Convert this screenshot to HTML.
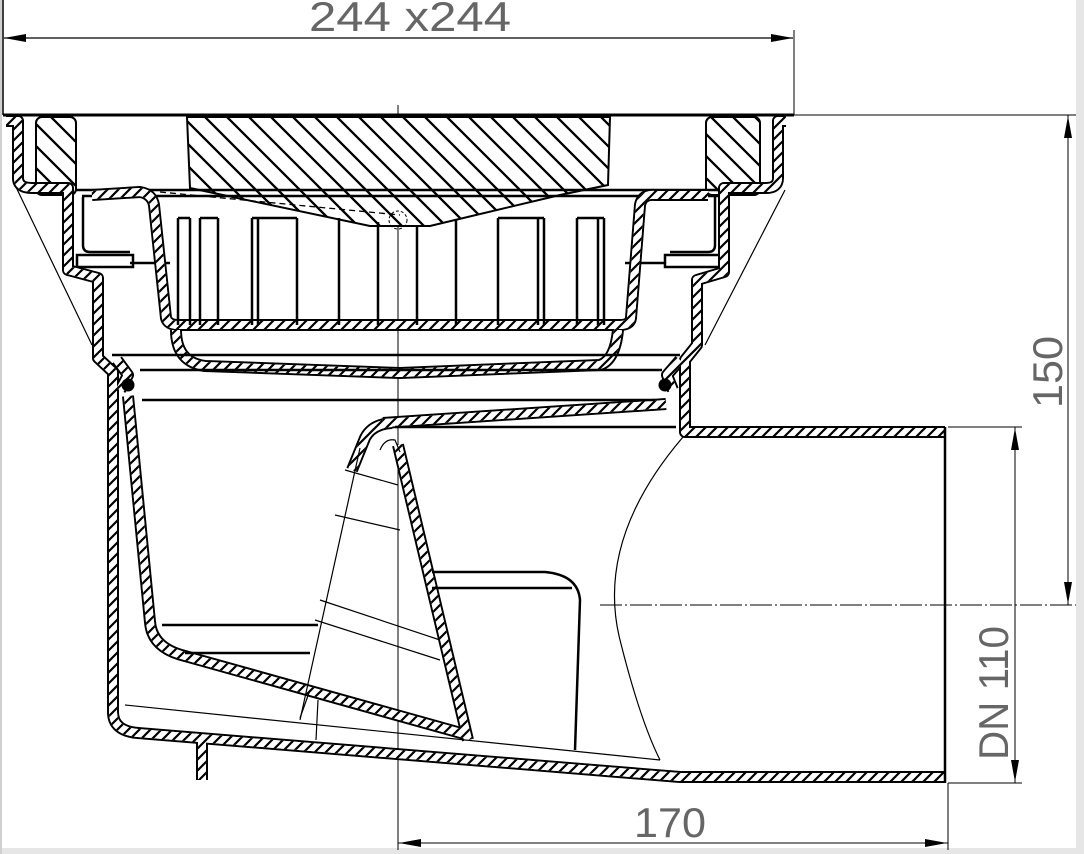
<!DOCTYPE html>
<html><head><meta charset="utf-8"><style>
html,body{margin:0;padding:0;background:#fff}
svg{display:block}
text{font-family:"Liberation Sans",sans-serif;fill:#666}
</style></head><body>
<svg width="1084" height="854" viewBox="0 0 1084 854" xmlns="http://www.w3.org/2000/svg">
<defs>
<pattern id="h" patternUnits="userSpaceOnUse" width="11" height="11">
<rect width="11" height="11" fill="#fff"/>
<path d="M-1,12 L12,-1 M-2,2 L2,-2 M9,13 L13,9" stroke="#000" stroke-width="2.2"/>
</pattern>
<pattern id="g" patternUnits="userSpaceOnUse" width="22" height="22">
<rect width="22" height="22" fill="#fff"/>
<path d="M-1,-1 L23,23 M-12,10 L12,34 M10,-12 L34,12" stroke="#000" stroke-width="2.3"/>
</pattern>
<marker id="a" markerWidth="22" markerHeight="10" refX="22" refY="5" orient="auto" markerUnits="userSpaceOnUse">
<path d="M0,1 L22,5 L0,9 Z" fill="#000"/></marker>
</defs>
<rect x="1076" y="0" width="8" height="854" fill="#e6e6e6"/>
<rect x="0" y="848" width="1084" height="6" fill="#e6e6e6"/>
<rect x="0" y="0" width="2" height="854" fill="#d0d0d0"/>

<line x1="3" y1="0" x2="3" y2="115" stroke="#000" stroke-width="1.5"/>
<line x1="794" y1="30" x2="794" y2="115" stroke="#000" stroke-width="1"/>
<line x1="25" y1="38" x2="4" y2="38" stroke="#000" stroke-width="1.2" marker-end="url(#a)"/>
<line x1="25" y1="38" x2="793" y2="38" stroke="#000" stroke-width="1.2" marker-end="url(#a)"/>
<text x="309" y="31" font-size="42" textLength="202" lengthAdjust="spacingAndGlyphs">244 x244</text>

<line x1="3" y1="115" x2="794" y2="115" stroke="#000" stroke-width="3"/>
<line x1="794" y1="115" x2="1076" y2="115" stroke="#000" stroke-width="1"/>

<line x1="1068" y1="115" x2="1068" y2="605" stroke="#000" stroke-width="1"/>
<line x1="1068" y1="140" x2="1068" y2="116" stroke="#000" marker-end="url(#a)"/>
<line x1="1068" y1="580" x2="1068" y2="604" stroke="#000" marker-end="url(#a)"/>
<text transform="translate(1062,408) rotate(-90)" font-size="42" textLength="72" lengthAdjust="spacingAndGlyphs">150</text>
<line x1="1015" y1="427" x2="1015" y2="783" stroke="#000" stroke-width="1"/>
<line x1="948" y1="427" x2="1022" y2="427" stroke="#000" stroke-width="1"/>
<line x1="948" y1="783" x2="1022" y2="783" stroke="#000" stroke-width="1"/>
<line x1="1015" y1="452" x2="1015" y2="428" stroke="#000" marker-end="url(#a)"/>
<line x1="1015" y1="758" x2="1015" y2="782" stroke="#000" marker-end="url(#a)"/>
<text transform="translate(1008,760) rotate(-90)" font-size="42" textLength="134" lengthAdjust="spacingAndGlyphs">DN 110</text>
<line x1="398" y1="843" x2="948" y2="843" stroke="#000" stroke-width="1"/>
<line x1="420" y1="843" x2="399" y2="843" stroke="#000" marker-end="url(#a)"/>
<line x1="925" y1="843" x2="947" y2="843" stroke="#000" marker-end="url(#a)"/>
<line x1="948" y1="783" x2="948" y2="850" stroke="#000" stroke-width="1"/>
<text x="634" y="837" font-size="42" textLength="72" lengthAdjust="spacingAndGlyphs">170</text>

<line x1="398" y1="105" x2="398" y2="850" stroke="#000" stroke-width="1"/>
<line x1="600" y1="605" x2="1076" y2="605" stroke="#000" stroke-width="1" stroke-dasharray="22,3,2,3"/>

<path d="M187,117 L610,117 L608,185 L560,195 L455,220 L430,226 L370,226 L190,188 Z" fill="url(#g)" stroke="#000" stroke-width="2"/>
<rect x="36" y="117" width="40" height="78" rx="6" fill="url(#g)" stroke="#000" stroke-width="2"/>
<rect x="706" y="117" width="54" height="78" rx="6" fill="url(#g)" stroke="#000" stroke-width="2"/>
<line x1="160" y1="192" x2="400" y2="215" stroke="#000" stroke-width="1.3" stroke-dasharray="6,4"/>
<circle cx="398" cy="220" r="9" fill="none" stroke="#000" stroke-width="1" stroke-dasharray="3,2"/>

<g stroke="#000" stroke-width="2.5" fill="none">
<path d="M75,190 L720,190 M82,196 L718,196"/>
<rect x="77" y="255" width="56" height="12"/>
<rect x="665" y="255" width="55" height="12"/>
<line x1="130" y1="263" x2="170" y2="263"/>
<line x1="625" y1="263" x2="665" y2="263"/>
<path d="M83,197 L83,245 Q83,252 90,252 L130,252"/>
<path d="M715,197 L715,245 Q715,252 708,252 L670,252"/>
</g>

<g id="walls" fill="none" stroke-linejoin="round">
<path d="M6,121 L18,121 L18,178 Q18,188 32,188 L68,188 L68,270 L98,278 L98,358 L113,372 L113,712 Q113,731 138,733 L680,777 L945,777"/>
<path d="M786,121 L778,121 L778,178 Q778,188 766,188 L724,188 L724,272 L697,280 L697,345 L685,360 L685,432 L945,432"/>
<path d="M92,195 L140,192 Q152,194 154,205 L166,318 Q168,325 178,325 L620,325 Q630,325 631,318 L640,205 Q642,194 655,195 L708,195"/>
<path d="M176,330 Q176,362 205,366 L400,373 L600,365 Q615,360 618,330"/>
<path d="M128,396 L150,622 Q152,648 185,656 L468,735"/>
<path d="M383,423 L666,404"/>
<path d="M352,470 L365,438 Q372,424 392,423"/>
<path d="M398,445 L468,740"/>
<path d="M202,738 L202,780"/>
<path d="M117,360 L128,375 L120,390 M680,360 L667,375 L673,390"/>
</g>
<use href="#walls" fill="none" stroke="#000" stroke-width="12"/>
<use href="#walls" fill="none" stroke="#fff" stroke-width="8"/>
<use href="#walls" fill="none" stroke="url(#h)" stroke-width="8"/>

<circle cx="128" cy="385" r="6.5" fill="#000"/>
<circle cx="665" cy="385" r="6.5" fill="#000"/>

<g stroke="#000" stroke-width="2.5" fill="none">
<line x1="112" y1="355" x2="680" y2="355"/>
<line x1="140" y1="370" x2="662" y2="370"/>
<line x1="142" y1="400" x2="655" y2="400"/>
<line x1="395" y1="427" x2="676" y2="427"/>
<line x1="162" y1="625" x2="318" y2="625"/>
<line x1="185" y1="653" x2="310" y2="653"/>
<path d="M432,572 L545,572 Q578,575 580,600 L575,750"/>
<line x1="432" y1="588" x2="572" y2="588"/>
<line x1="945" y1="427" x2="945" y2="783"/>
</g>
<g stroke="#000" stroke-width="2.5">
<path d="M178,218 L178,325 M190,218 L190,325 M200,218 L200,325 M218,218 L218,325"/>
<path d="M252,218 L252,325 M258,218 L258,325 M297,218 L297,325 M339,218 L339,325 M378,222 L378,325 M417,226 L417,325 M456,220 L456,325"/>
<path d="M498,218 L498,325 M538,218 L538,325 M544,218 L544,325 M577,218 L577,325 M598,218 L598,325 M604,218 L604,325"/>
<path d="M252,218 L297,218 M498,218 L544,218 M577,218 L604,218 M178,218 L190,218 M200,218 L218,218"/>
</g>
<g stroke="#000" stroke-width="1.2" fill="none">
<path d="M15,185 L92,345"/>
<path d="M785,190 L705,345"/>
<path d="M360,448 L300,720"/>
<path d="M125,705 L660,760"/>
<path d="M683,437 Q595,540 620,640 Q640,720 660,760"/>
<path d="M345,470 L398,485 M335,515 L400,530"/>
<path d="M320,600 L440,640 M315,620 L440,660"/>
<path d="M300,718 L310,690 M318,700 L316,740"/>
<path d="M380,450 Q385,438 395,440 L400,452"/>
</g>
</svg>
</body></html>
